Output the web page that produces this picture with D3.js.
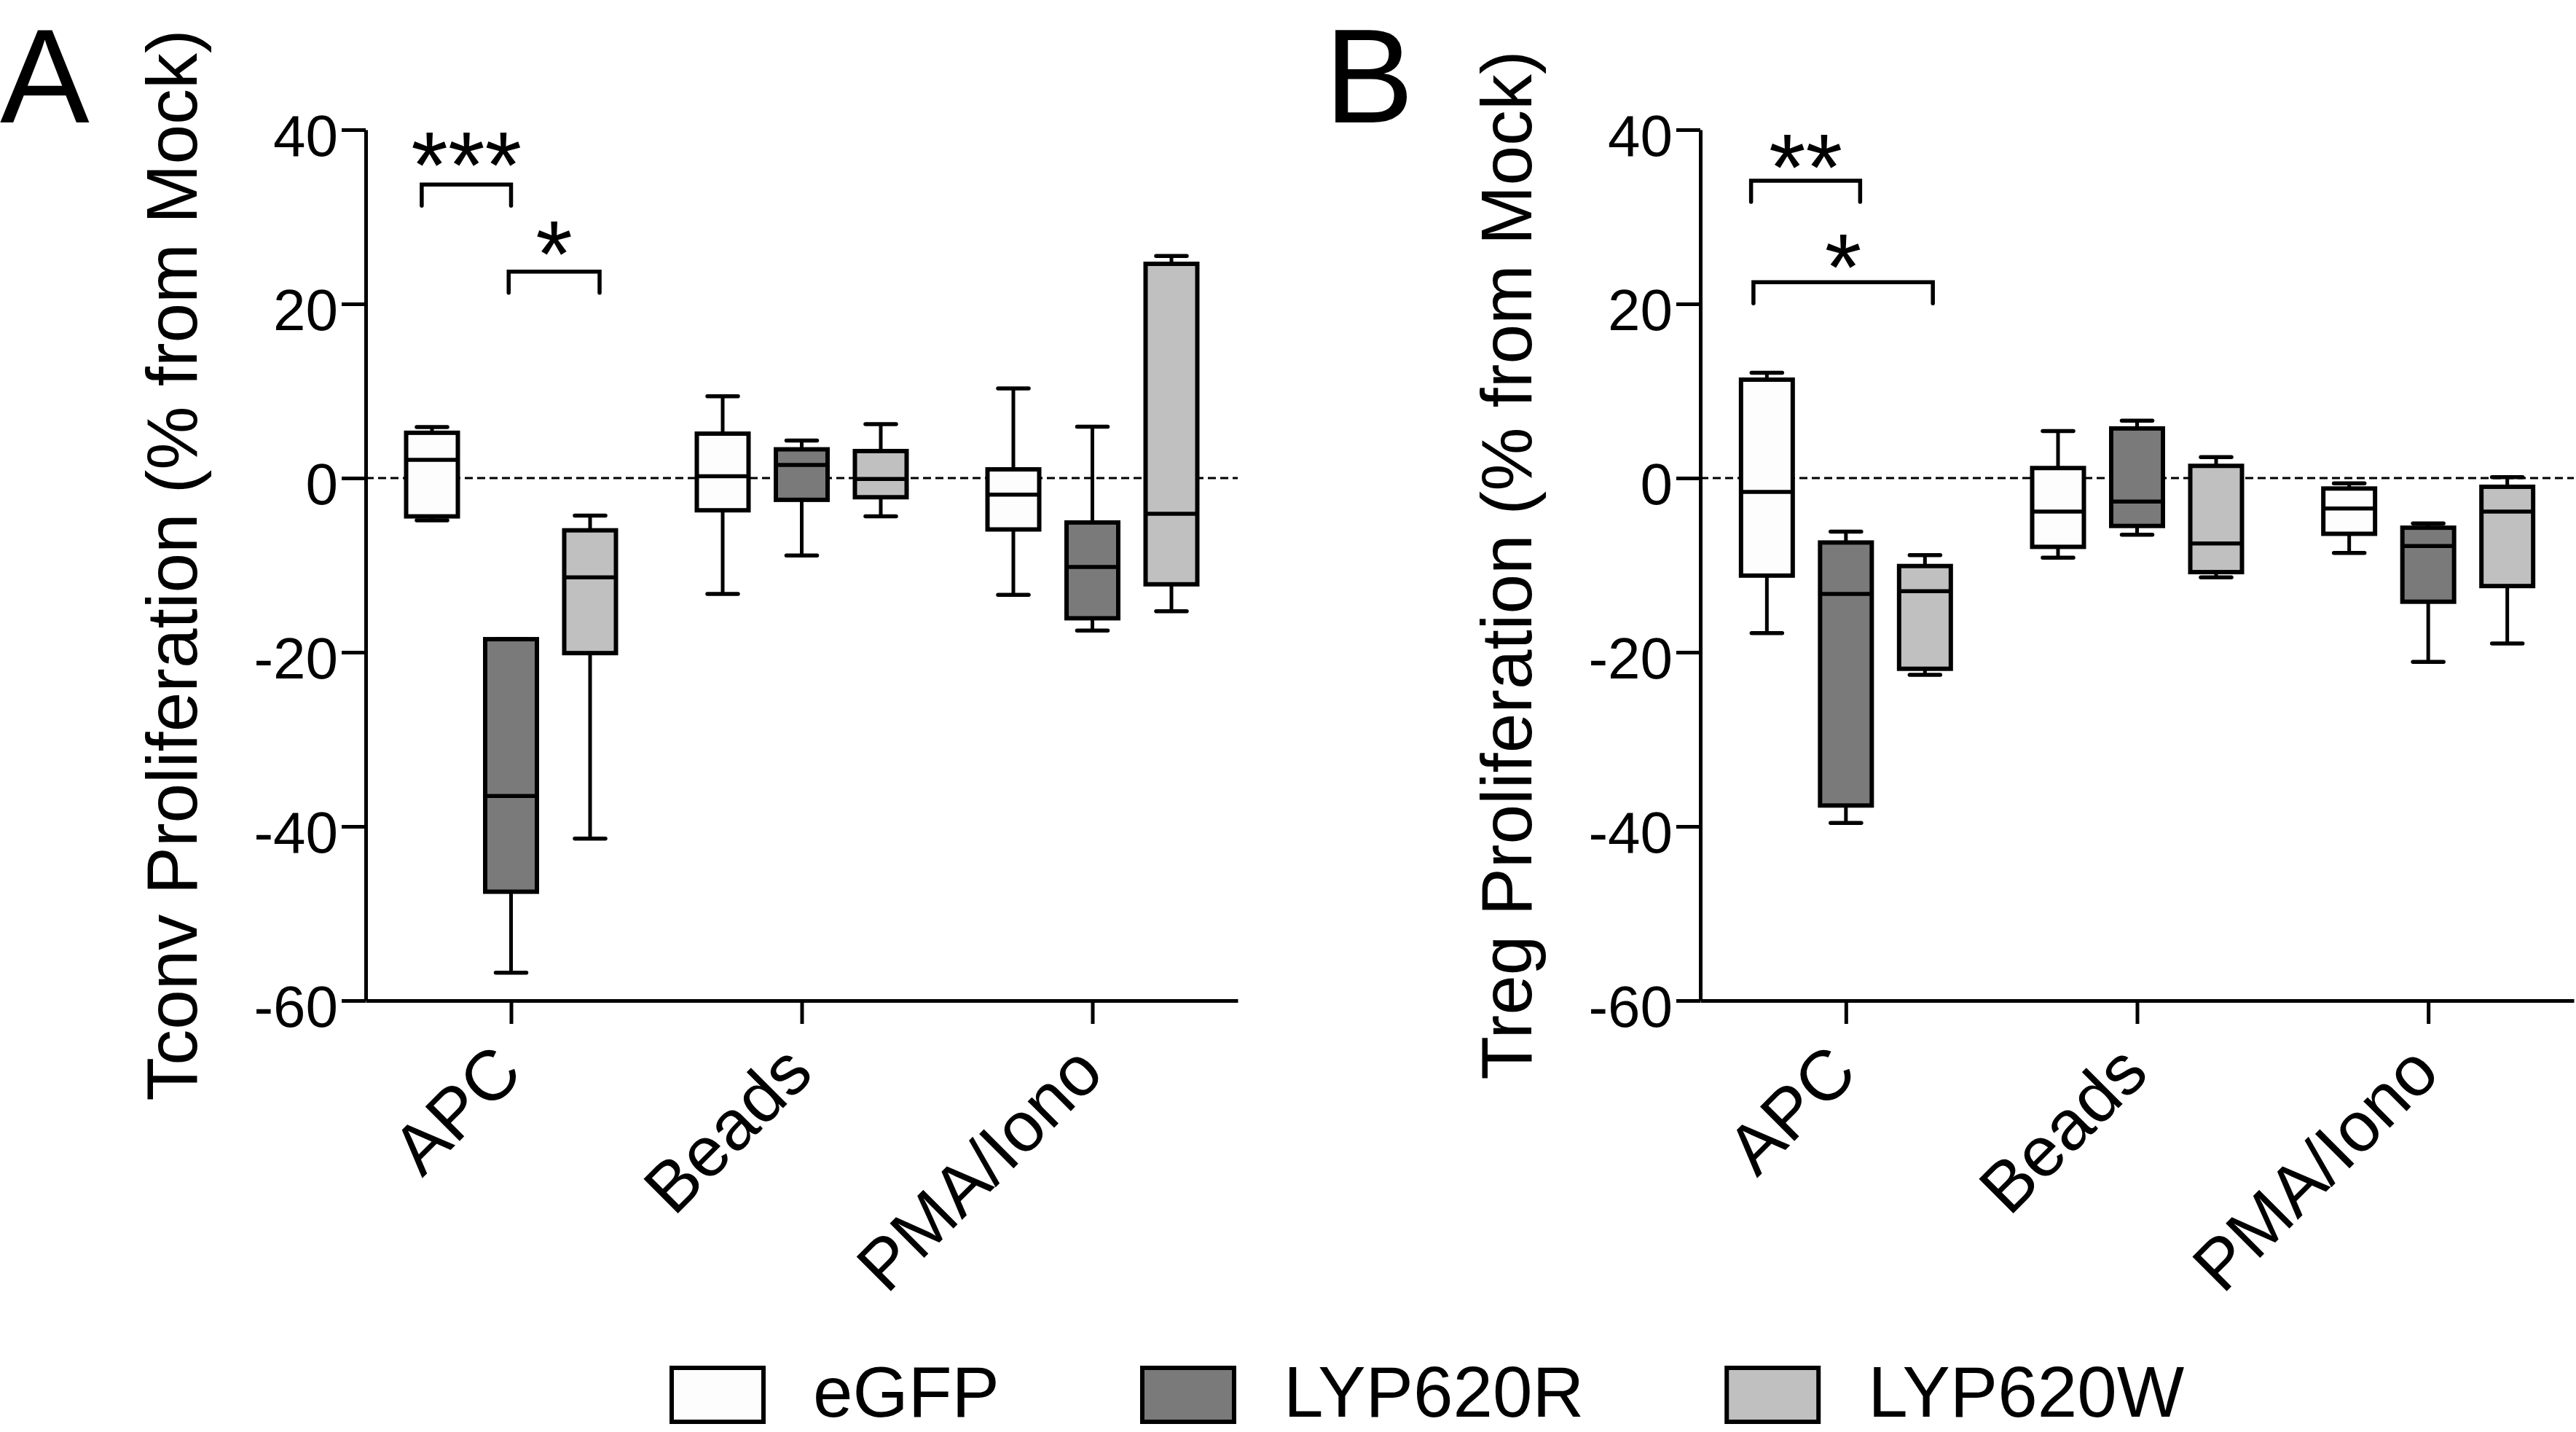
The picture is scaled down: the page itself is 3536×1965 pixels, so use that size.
<!DOCTYPE html>
<html><head><meta charset="utf-8">
<script src="https://cdn.jsdelivr.net/npm/d3@7"></script>
<style>html,body{margin:0;padding:0;background:#fff;} svg{display:block;}</style>
</head><body>
<svg id="chart" width="3536" height="1965"></svg>
<script>
// ---------- data ----------
const categories = ["APC", "Beads", "PMA/Iono"];
const seriesNames = ["eGFP", "LYP620R", "LYP620W"];
const seriesFill = ["#fdfdfd", "#7a7a7a", "#c0c0c0"];
const yTicks = [-60, -40, -20, 0, 20, 40];

// box statistics per category: [min, q1, median, q3, max]
const tconv_eGFP    = [[-4.85, -4.4, 2.1, 5.2, 5.85], [-13.3, -3.7, 0.2, 5.1, 9.4], [-13.4, -5.9, -1.9, 1.0, 10.3]];
const tconv_LYP620R = [[-56.8, -47.5, -36.5, -18.5, -18.5], [-8.9, -2.5, 1.5, 3.3, 4.3], [-17.5, -16.1, -10.2, -5.1, 5.9]];
const tconv_LYP620W = [[-41.4, -20.1, -11.4, -6.0, -4.3], [-4.4, -2.2, -0.1, 3.1, 6.2], [-15.3, -12.2, -4.1, 24.6, 25.5]];

const treg_eGFP    = [[-17.8, -11.2, -1.6, 11.3, 12.1], [-9.15, -7.9, -3.85, 1.15, 5.4], [-8.6, -6.4, -3.5, -1.2, -0.6]];
const treg_LYP620R = [[-39.6, -37.6, -13.3, -7.4, -6.15], [-6.5, -5.5, -2.7, 5.7, 6.6], [-21.1, -14.2, -7.8, -5.7, -5.2]];
const treg_LYP620W = [[-22.6, -21.9, -13.0, -10.1, -8.85], [-11.4, -10.8, -7.5, 1.4, 2.4], [-19.0, -12.4, -3.85, -1.0, 0.1]];

// significance brackets: [category, from series index, to series index, bracket value, label, label value]
const tconvSig = [["APC", -0.13, 1.0, 33.7, "***", 36.8], ["APC", 0.97, 2.12, 23.7, "*", 26.6]];
const tregSig  = [["APC", -0.2, 1.18, 34.15, "**", 36.6], ["APC", -0.17, 2.1, 22.5, "*", 25.1]];

// ---------- drawing ----------
const FONT = "'Liberation Sans', Arial, Helvetica, sans-serif";
const svg = d3.select("#chart").attr("font-family", FONT);

const panels = [
  { letter: "A", letterX: 0, left: 502, right: 1699, ylabel: "Tconv Proliferation (% from Mock)",
    series: [tconv_eGFP, tconv_LYP620R, tconv_LYP620W], sig: tconvSig },
  { letter: "B", letterX: 1818, left: 2334, right: 3533, ylabel: "Treg Proliferation (% from Mock)",
    series: [treg_eGFP, treg_LYP620R, treg_LYP620W], sig: tregSig }
];

const y = d3.scaleLinear().domain([-60, 40]).range([1373, 178]);
const off = d3.scaleLinear().domain([0, 2]).range([-108.5, 108.5]);
const BOXW = 71, CAPW = 42;

panels.forEach(p => {
  const g = svg.append("g");
  const x = d3.scalePoint().domain(categories).range([p.left, p.right]).padding(0.5);

  // panel letter
  g.append("text").attr("x", p.letterX).attr("y", 168).attr("font-size", 184).text(p.letter);

  // zero dashed line
  g.append("line").attr("x1", p.left).attr("x2", p.right).attr("y1", y(0)).attr("y2", y(0))
    .attr("stroke", "#000").attr("stroke-width", 3).attr("stroke-dasharray", "11,6");

  // boxes
  p.series.forEach((arr, si) => {
    arr.forEach((s, ci) => {
      const cx = x(categories[ci]) + off(si);
      const [mn, q1, md, q3, mx] = s;
      const bg = g.append("g");
      bg.append("line").attr("x1", cx).attr("x2", cx).attr("y1", y(mx)).attr("y2", y(mn))
        .attr("stroke", "#000").attr("stroke-width", 5);
      [mn, mx].forEach(v => bg.append("line").attr("x1", cx - CAPW / 2).attr("x2", cx + CAPW / 2)
        .attr("y1", y(v)).attr("y2", y(v)).attr("stroke", "#000").attr("stroke-width", 5.5)
        .attr("stroke-linecap", "round"));
      bg.append("rect").attr("x", cx - BOXW / 2).attr("width", BOXW)
        .attr("y", y(q3)).attr("height", y(q1) - y(q3))
        .attr("fill", seriesFill[si]).attr("stroke", "#000").attr("stroke-width", 6);
      bg.append("line").attr("x1", cx - BOXW / 2).attr("x2", cx + BOXW / 2)
        .attr("y1", y(md)).attr("y2", y(md)).attr("stroke", "#000").attr("stroke-width", 5.5);
    });
  });

  // y axis
  const ya = g.append("g").attr("transform", `translate(${p.left},0)`)
    .call(d3.axisLeft(y).tickValues(yTicks).tickSize(33).tickPadding(5).tickSizeOuter(0)
      .tickFormat(d => String(d)));
  ya.select(".domain").attr("stroke-width", 5);
  ya.selectAll(".tick line").attr("stroke-width", 5);
  ya.selectAll(".tick text").attr("font-size", 80).attr("font-family", FONT).attr("dy", "0.445em").attr("fill", "#000");

  // x axis
  const xa = g.append("g").attr("transform", `translate(0,${y(-60)})`)
    .call(d3.axisBottom(x).tickSize(32).tickSizeOuter(0).tickFormat(""));
  xa.select(".domain").attr("stroke-width", 5);
  xa.selectAll(".tick line").attr("stroke-width", 5);
  g.selectAll(".catlabel").data(categories).enter().append("text")
    .attr("class", "catlabel")
    .attr("transform", d => `translate(${x(d) + 19},${y(-60) + 103}) rotate(-45)`)
    .attr("text-anchor", "end").attr("font-size", 97).text(d => d);

  // y label
  g.append("text").attr("transform", `translate(${p.left - 232},${(y(40) + y(-60)) / 2}) rotate(-90)`)
    .attr("text-anchor", "middle").attr("font-size", 98).text(p.ylabel);

  // significance
  p.sig.forEach(([cat, a, b, v, lab, lv]) => {
    const x1 = x(cat) + off(a), x2 = x(cat) + off(b), yy = y(v);
    g.append("path").attr("d", `M${x1},${yy + 29}V${yy}H${x2}V${yy + 29}`)
      .attr("fill", "none").attr("stroke", "#000").attr("stroke-width", 5.5)
      .attr("stroke-linecap", "round");
    g.append("text").attr("x", (x1 + x2) / 2).attr("y", y(lv) + 56)
      .attr("text-anchor", "middle").attr("font-size", 130).text(lab);
  });
});

// legend
const lg = svg.append("g");
let lx = 919;
seriesNames.forEach((name, i) => {
  lg.append("rect").attr("x", lx + 3).attr("y", 1877).attr("width", 126).attr("height", 74)
    .attr("fill", seriesFill[i]).attr("stroke", "#000").attr("stroke-width", 6);
  const t = lg.append("text").attr("x", lx + 132 + 65).attr("y", 1944).attr("font-size", 98).text(name);
  const w = t.node().getComputedTextLength();
  lx = lx + 132 + 65 + w + 193;
});
</script>
</body></html>
